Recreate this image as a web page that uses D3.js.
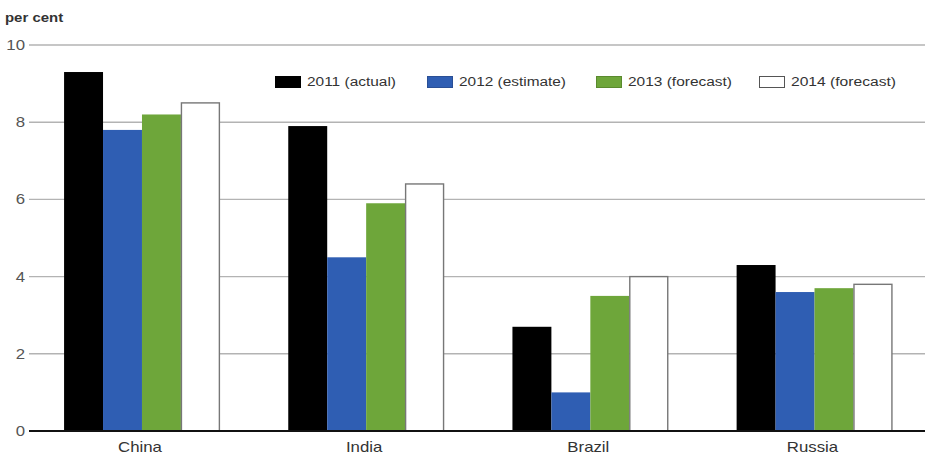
<!DOCTYPE html>
<html>
<head>
<meta charset="utf-8">
<script src="https://cdn.jsdelivr.net/npm/d3@7"></script>
<style>
  html, body { margin: 0; padding: 0; background: #fff; }
  svg { display: block; }
  text { font-family: "Liberation Sans", Arial, sans-serif; }
</style>
</head>
<body>
<svg id="chart" width="925" height="456"></svg>
<script>
// Real GDP growth by country, per cent
const countries = ["China", "India", "Brazil", "Russia"];
const seriesNames = ["2011 (actual)", "2012 (estimate)", "2013 (forecast)", "2014 (forecast)"];
const values2011 = [9.3, 7.9, 2.7, 4.3];
const values2012 = [7.8, 4.5, 1.0, 3.6];
const values2013 = [8.2, 5.9, 3.5, 3.7];
const values2014 = [8.5, 6.4, 4.0, 3.8];
const yTicks = [0, 2, 4, 6, 8, 10];

const seriesValues = [values2011, values2012, values2013, values2014];
const fills = ["#000000", "#2f5eb3", "#6ea63a", "#ffffff"];
const strokes = ["#000000", "#2a4f95", "#5a8a2e", "#777777"];

const svg = d3.select("#chart");

const x = d3.scaleBand().domain(countries).range([30, 926.5]).paddingInner(0.305).paddingOuter(0.152);
const xs = d3.scaleBand().domain(seriesNames).range([0, x.bandwidth()]).padding(0);
const y = d3.scaleLinear().domain([0, 10]).range([431, 45]);

// Horizontal gridlines
const grid = svg.append("g");
grid.selectAll("line.grid")
  .data(yTicks.filter(d => d !== 0))
  .join("line")
  .attr("class", "grid")
  .attr("x1", 29).attr("x2", 925)
  .attr("y1", d => y(d)).attr("y2", d => y(d))
  .attr("stroke", "#b3b3b3")
  .attr("stroke-width", 1.4);

// Y tick labels, slightly widened
grid.selectAll("text")
  .data(yTicks)
  .join("text")
  .attr("x", 25)
  .attr("y", d => y(d))
  .attr("dy", "0.36em")
  .attr("text-anchor", "end")
  .attr("font-size", 14)
  .attr("fill", "#555")
  .attr("transform", d => `translate(25,0) scale(1.2,1) translate(-25,0)`)
  .text(d => d);

// Bars
const rows = countries.map((c, i) => ({ country: c, vals: seriesNames.map((s, j) => ({ s, j, v: seriesValues[j][i] })) }));
svg.append("g").selectAll("g")
  .data(rows)
  .join("g")
  .attr("transform", d => `translate(${x(d.country)},0)`)
  .selectAll("rect")
  .data(d => d.vals)
  .join("rect")
  .attr("x", d => xs(d.s) + (d.j === 3 ? 0.5 : 0))
  .attr("width", d => xs.bandwidth() - (d.j === 3 ? 1 : 0))
  .attr("y", d => y(d.v))
  .attr("height", d => y(0) - y(d.v))
  .attr("fill", d => fills[d.j])
  .attr("stroke", d => d.j === 3 ? strokes[3] : "none")
  .attr("stroke-width", 1.4);

// Zero baseline
svg.append("line")
  .attr("x1", 29).attr("x2", 925)
  .attr("y1", y(0)).attr("y2", y(0))
  .attr("stroke", "#111")
  .attr("stroke-width", 2.2);

// Category labels
svg.append("g").selectAll("text")
  .data(countries)
  .join("text")
  .attr("x", d => x(d) + x.bandwidth() / 2 - 2)
  .attr("y", 452)
  .attr("text-anchor", "middle")
  .attr("font-size", 14)
  .attr("fill", "#333")
  .attr("transform", d => { const cx = x(d) + x.bandwidth() / 2 - 2; return `translate(${cx},0) scale(1.2,1) translate(${-cx},0)`; })
  .text(d => d);

// Unit label
svg.append("text")
  .attr("x", 5).attr("y", 22)
  .attr("font-size", 13)
  .attr("font-weight", "bold")
  .attr("fill", "#333")
  .attr("transform", "translate(5,0) scale(1.15,1) translate(-5,0)")
  .text("per cent");

// Legend
const legendX = [275, 427, 596, 759];
const legendW = [89, 107, 104, 105];
const legend = svg.append("g").selectAll("g")
  .data(seriesNames)
  .join("g")
  .attr("transform", (d, i) => `translate(${legendX[i]},76)`);
legend.append("rect")
  .attr("x", 0.5).attr("y", 0.5)
  .attr("width", 25).attr("height", 11)
  .attr("fill", (d, i) => fills[i])
  .attr("stroke", (d, i) => i === 3 ? "#555" : strokes[i])
  .attr("stroke-width", 1);
legend.append("text")
  .attr("x", 32).attr("y", 6)
  .attr("dy", "0.36em")
  .attr("font-size", 12)
  .attr("fill", "#333")
  .attr("textLength", (d, i) => legendW[i])
  .attr("lengthAdjust", "spacingAndGlyphs")
  .text(d => d);
</script>
</body>
</html>
